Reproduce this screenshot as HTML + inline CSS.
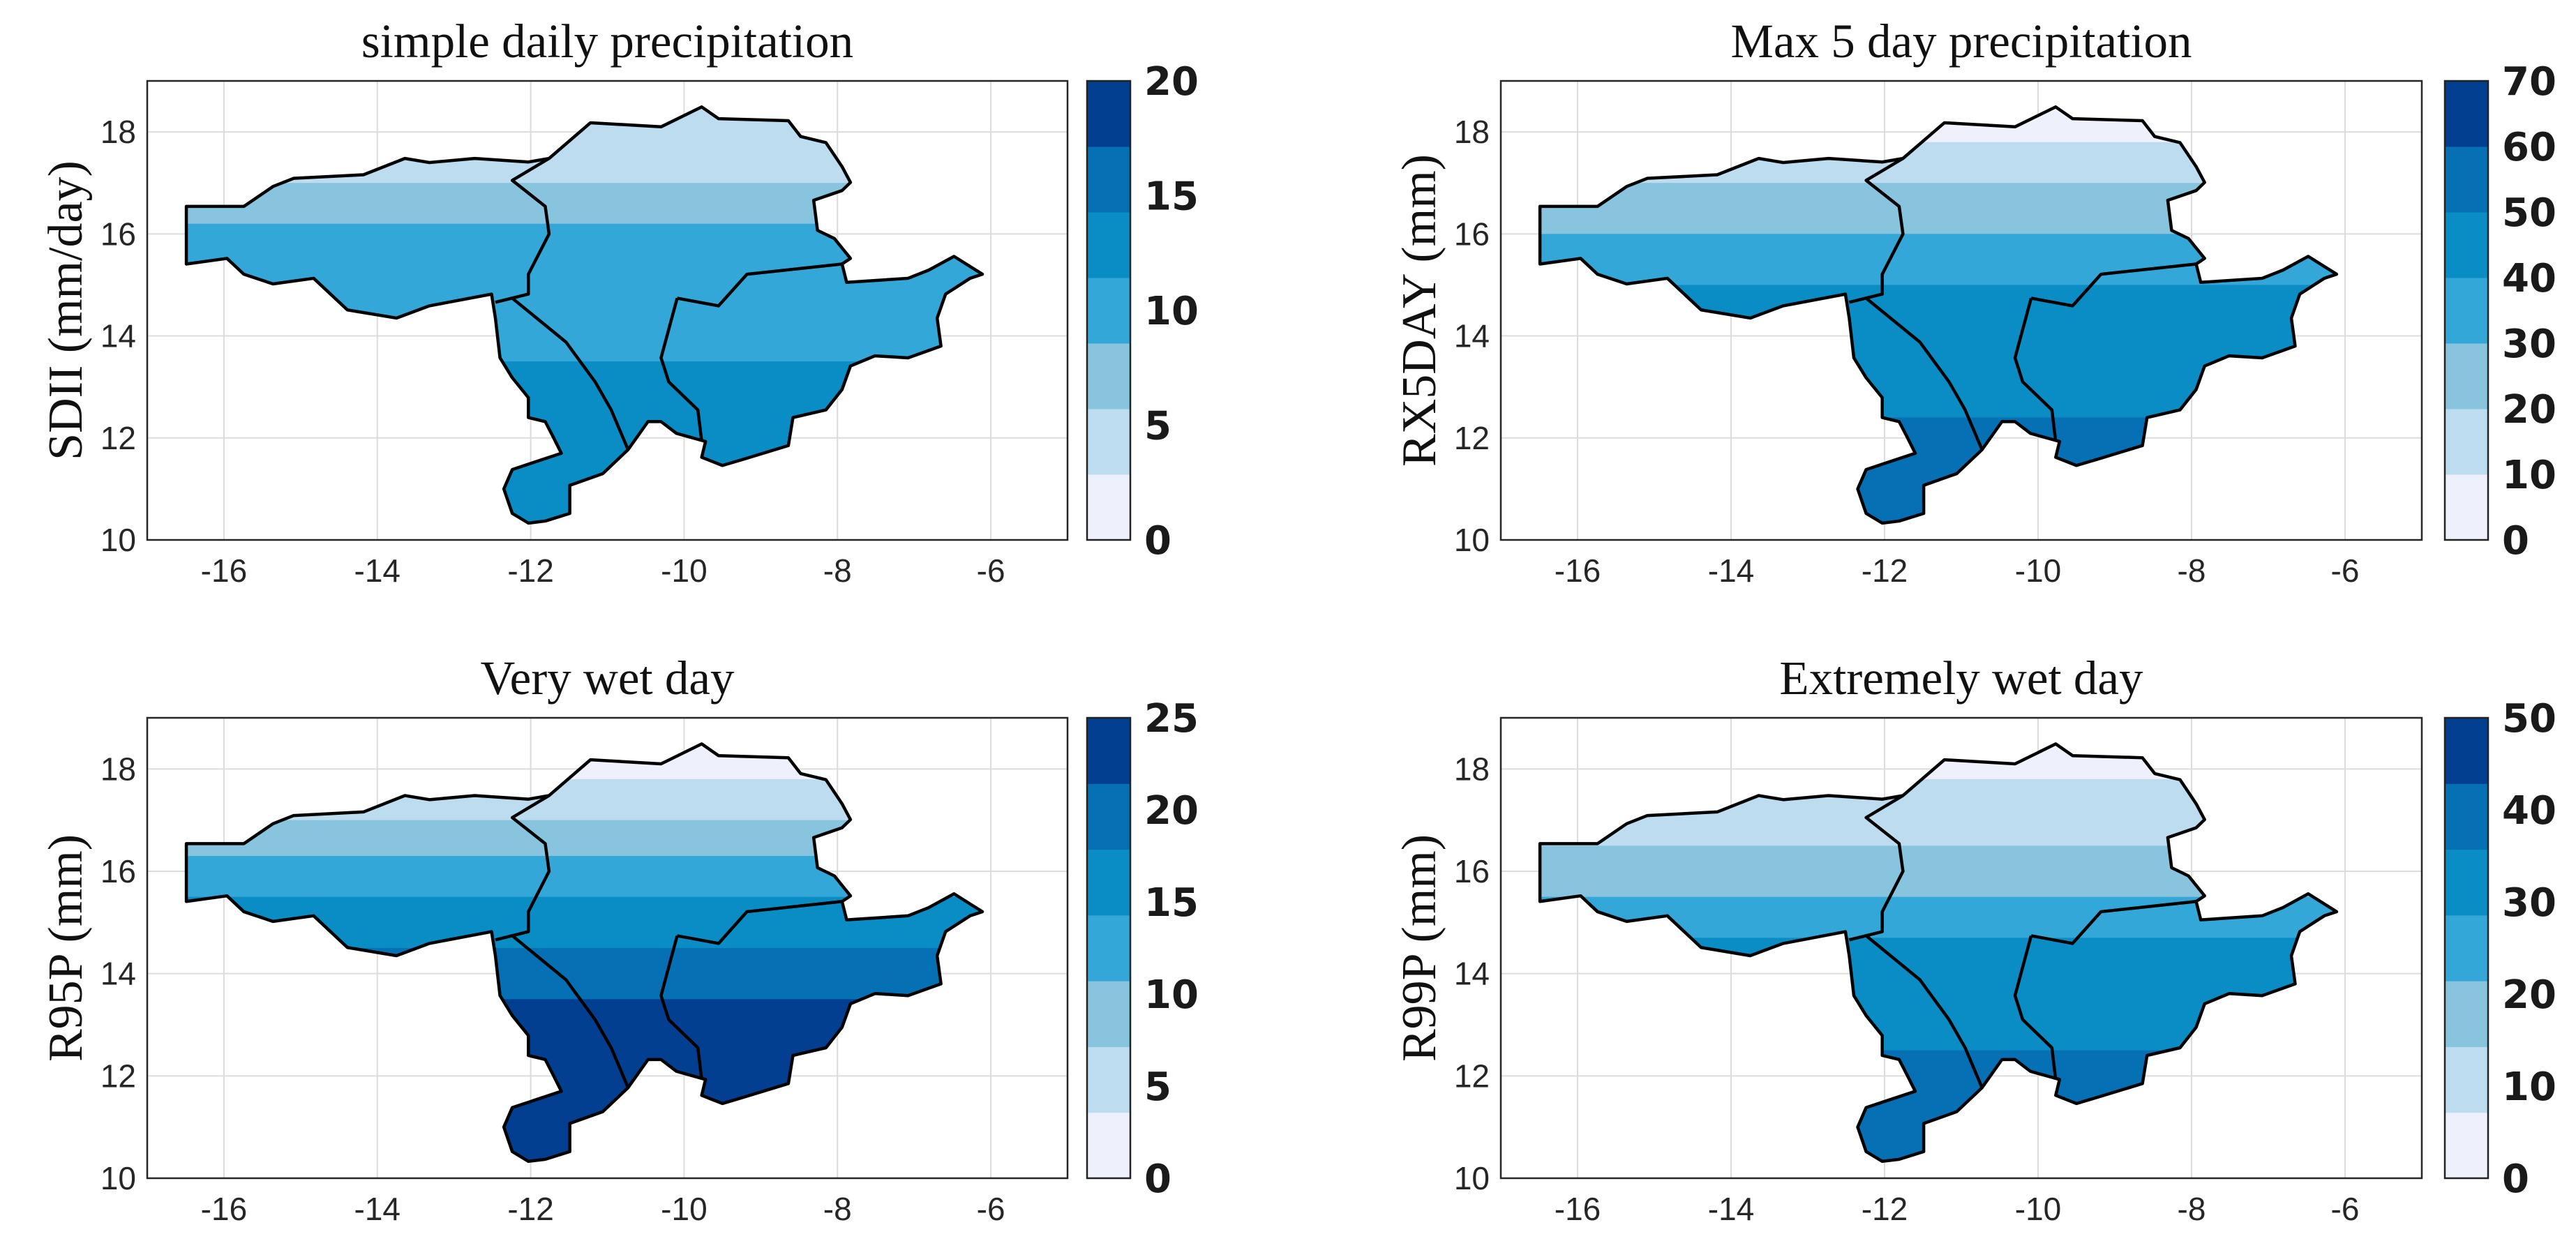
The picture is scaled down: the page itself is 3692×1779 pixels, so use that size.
<!DOCTYPE html>
<html><head><meta charset="utf-8"><style>
html,body{margin:0;padding:0;background:#fff;width:3692px;height:1779px;overflow:hidden;}
svg{display:block;}
</style></head><body>
<svg id="fig" width="3692" height="1779" viewBox="0 0 3692 1779" xmlns="http://www.w3.org/2000/svg"></svg>
<script>
// ---- data ----
const xTicks = [-16,-14,-12,-10,-8,-6];
const yTicks = [10,12,14,16,18];
const bandColors = ['#eef0fb','#bddcf0','#88c4de','#33a8d8','#0a8cc4','#0670b4','#033f91'];
const titles = ['simple daily precipitation','Max 5 day precipitation','Very wet day','Extremely wet day'];
const yLabels = ['SDII (mm/day)','RX5DAY (mm)','R95P (mm)','R99P (mm)'];
const cbarTicks1 = [0,5,10,15,20];
const cbarTicks2 = [0,10,20,30,40,50,60,70];
const cbarTicks3 = [0,5,10,15,20,25];
const cbarTicks4 = [0,10,20,30,40,50];
// latitude bands: [lower latitude bound, colour level]
const bands1 = [[17.0,1],[16.2,2],[13.5,3],[0,4]];
const bands2 = [[17.8,0],[17.0,1],[16.0,2],[15.0,3],[12.4,4],[0,5]];
const bands3 = [[17.8,0],[17.0,1],[16.3,2],[15.5,3],[14.5,4],[13.5,5],[0,6]];
const bands4 = [[17.8,0],[16.5,1],[15.5,2],[14.7,3],[12.5,4],[0,5]];
const basinLon = [-16.49,-16.49,-15.74,-15.36,-15.09,-14.18,-13.64,-13.32,-12.73,-12.03,-11.76,-11.22,-10.30,-9.77,-9.55,-8.64,-8.48,-8.15,-7.94,-7.83,-7.94,-8.31,-8.26,-8.04,-7.83,-7.94,-7.88,-7.08,-6.81,-6.48,-6.11,-6.27,-6.59,-6.70,-6.65,-7.08,-7.51,-7.83,-7.94,-8.15,-8.58,-8.64,-9.23,-9.50,-9.77,-9.72,-10.1,-10.3,-10.47,-10.73,-11.06,-11.49,-11.49,-11.81,-12.03,-12.24,-12.35,-12.24,-11.92,-11.6,-11.7,-11.81,-12.03,-12.03,-12.24,-12.40,-12.46,-12.51,-13.32,-13.75,-14.39,-14.83,-15.36,-15.74,-15.96];
const basinLat = [15.41,16.54,16.54,16.93,17.09,17.16,17.48,17.40,17.48,17.41,17.48,18.18,18.10,18.49,18.26,18.22,17.91,17.79,17.32,17.01,16.85,16.66,16.07,15.91,15.52,15.41,15.05,15.13,15.29,15.56,15.21,15.13,14.82,14.35,13.80,13.57,13.61,13.41,12.95,12.55,12.40,11.85,11.58,11.46,11.62,11.93,12.09,12.32,12.32,11.77,11.30,11.07,10.52,10.37,10.33,10.52,11.0,11.38,11.54,11.70,12.0,12.32,12.40,12.79,13.18,13.57,14.35,14.82,14.59,14.35,14.51,15.13,15.02,15.21,15.52];
const divides = [
  [[-11.76,17.48],[-12.24,17.05],[-11.81,16.54],[-11.76,16.0],[-12.03,15.21],[-12.03,14.82],[-12.46,14.66]],
  [[-12.24,14.74],[-11.54,13.88],[-11.16,13.10],[-10.95,12.55],[-10.73,11.77]],
  [[-10.09,14.74],[-10.30,13.57],[-10.20,13.10],[-9.82,12.55],[-9.77,11.93]],
  [[-10.09,14.74],[-9.55,14.59],[-9.18,15.21],[-7.94,15.41]]
];
const panels = [
  {x0:211,x1:1530,y0:116,y1:774,cb0:1558,cb1:1620,ticks:cbarTicks1,bands:bands1},
  {x0:2151,x1:3471,y0:116,y1:774,cb0:3504,cb1:3566,ticks:cbarTicks2,bands:bands2},
  {x0:211,x1:1530,y0:1029,y1:1689,cb0:1558,cb1:1620,ticks:cbarTicks3,bands:bands3},
  {x0:2151,x1:3471,y0:1029,y1:1689,cb0:3504,cb1:3566,ticks:cbarTicks4,bands:bands4}
];
const NS='http://www.w3.org/2000/svg';
const svg=document.getElementById('fig');
function mk(tag,attrs,parent){const e=document.createElementNS(NS,tag);for(const k in attrs)e.setAttribute(k,attrs[k]);(parent||svg).appendChild(e);return e;}

panels.forEach((p,i)=>{
  const g=mk('g',{});
  
  
  const sx=lon=>p.x0+(lon+17)/12*(p.x1-p.x0);
  const sy=lat=>p.y1-(lat-10)/9*(p.y1-p.y0);
  xTicks.forEach(t=>{const l=mk('line',{x1:sx(t),x2:sx(t),y1:p.y0,y2:p.y1,stroke:'#dcdcdc','stroke-width':2},g);
    });
  yTicks.forEach(t=>{const l=mk('line',{x1:p.x0,x2:p.x1,y1:sy(t),y2:sy(t),stroke:'#dcdcdc','stroke-width':2},g);
    });
  const pts=basinLon.map((lo,k)=>sx(lo)+','+sy(basinLat[k])).join(' ');
  const cp=mk('clipPath',{id:'clip'+i},g);
  mk('polygon',{points:pts},cp);
  const fillG=mk('g',{'clip-path':'url(#clip'+i+')'},g);
  
  
  let top=19;
  p.bands.forEach(b=>{
    const r=mk('rect',{x:p.x0,y:sy(top),width:p.x1-p.x0,height:sy(b[0])-sy(top)+1,fill:bandColors[b[1]]},fillG);
    
    
    top=b[0];
  });
  const outline=mk('polygon',{points:pts,fill:'none',stroke:'#000','stroke-width':4.5,'stroke-linejoin':'round'},g);
  
  
  divides.forEach(d=>{
    const pl=mk('polyline',{points:d.map(q=>sx(q[0])+','+sy(q[1])).join(' '),fill:'none',stroke:'#000','stroke-width':4.5,'stroke-linejoin':'round'},g);
    
    
  });
  const box=mk('rect',{x:p.x0,y:p.y0,width:p.x1-p.x0,height:p.y1-p.y0,fill:'none',stroke:'#262626','stroke-width':2.5},g);
  
  
  xTicks.forEach(t=>{const tx=mk('text',{x:sx(t),y:p.y1+60,'text-anchor':'middle','font-family':'Liberation Sans, sans-serif','font-size':46,fill:'#262626'},g);
    tx.textContent=t;});
  yTicks.forEach(t=>{const tx=mk('text',{x:p.x0-16,y:sy(t)+16,'text-anchor':'end','font-family':'Liberation Sans, sans-serif','font-size':46,fill:'#262626'},g);
    tx.textContent=t;});
  const ti=mk('text',{x:(p.x0+p.x1)/2,y:p.y0-34,'text-anchor':'middle','font-family':'Liberation Serif, serif','font-size':69,fill:'#111'},g);
  ti.textContent=titles[i];
  const yl=mk('text',{x:0,y:0,'text-anchor':'middle','font-family':'Liberation Serif, serif','font-size':70,fill:'#111',transform:'translate('+(p.x0-94)+','+((p.y0+p.y1)/2)+') rotate(-90)'},g);
  yl.textContent=yLabels[i];
  const cg=mk('g',{},g);
  
  
  const h=(p.y1-p.y0)/bandColors.length;
  bandColors.forEach((c,k)=>{const r=mk('rect',{x:p.cb0,y:p.y1-(k+1)*h,width:p.cb1-p.cb0,height:h+0.5,fill:c},cg);
    });
  mk('rect',{x:p.cb0,y:p.y0,width:p.cb1-p.cb0,height:p.y1-p.y0,fill:'none',stroke:'#222','stroke-width':2.5},cg);
  const maxV=p.ticks[p.ticks.length-1];
  p.ticks.forEach(t=>{const yy=p.y1-t/maxV*(p.y1-p.y0);
    const tx=mk('text',{x:p.cb1+20,y:yy+20,'font-family':'DejaVu Sans, sans-serif','font-weight':'bold','font-size':56,fill:'#1a1a1a'},cg);
    tx.textContent=t;});
});
</script>
</body></html>
